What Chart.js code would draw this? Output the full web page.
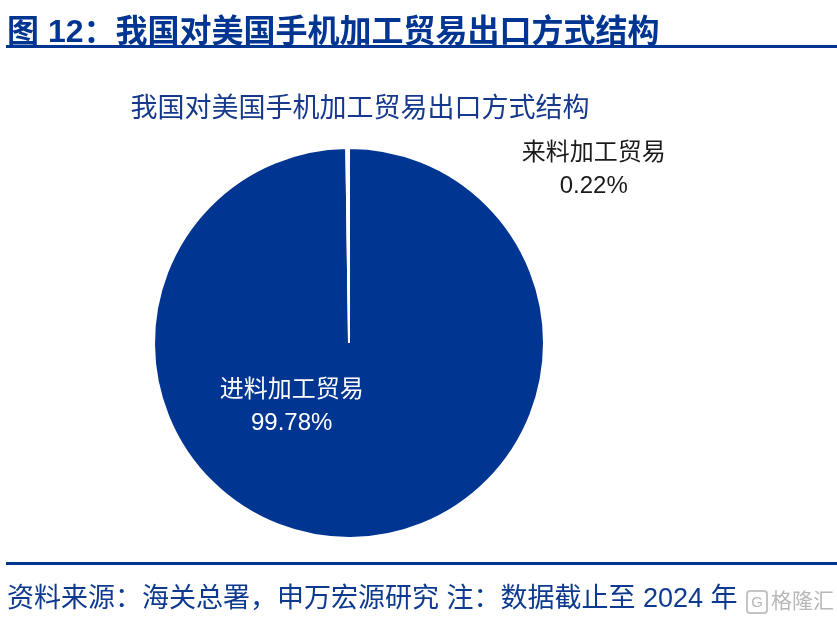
<!DOCTYPE html>
<html lang="zh">
<head>
  <meta charset="UTF-8">
  <title>我国对美国手机加工贸易出口方式结构</title>
  <script src="https://cdn.jsdelivr.net/npm/chart.js"></script>
  <style>
    html, body { margin: 0; padding: 0; background: #fff; }
    body { width: 837px; height: 618px; position: relative; overflow: hidden;
           font-family: "Liberation Sans", "Noto Sans CJK SC", sans-serif; }
    #chartBox { position: absolute; left: 0; top: 0; width: 837px; height: 618px; }
    .header { position: absolute; left: 7px; top: 5px; font-size: 32px; font-weight: 700;
              color: #003591; white-space: nowrap; }
    .rule { position: absolute; left: 6px; right: 0; height: 3px; background: #003591; }
    .title { position: absolute; left: 0; width: 720px; top: 86px; text-align: center;
             font-size: 27px; color: #16398c; }
    .source { position: absolute; left: 7px; top: 576px; font-size: 27px; color: #0d3a8f; white-space: nowrap; }
    .mark { position: absolute; right: 3px; top: 584px; font-size: 21px; color: #b8b8b8; white-space: nowrap; }
    .mark span { display: inline-block; border: 2px solid #c4c4c4; border-radius: 4px; width: 18px; height: 20px;
                 line-height: 20px; text-align: center; font-size: 15px; margin-right: 3px; vertical-align: middle; }
  </style>
</head>
<body>
  <div id="chartBox"><canvas id="pieChart" width="837" height="618"></canvas></div>

  <div class="header">图 12：我国对美国手机加工贸易出口方式结构</div>
  <div class="rule" style="top:45px"></div>
  <div class="title">我国对美国手机加工贸易出口方式结构</div>
  <div class="rule" style="top:562px"></div>
  <div class="source">资料来源：海关总署，申万宏源研究 注：数据截止至 2024 年</div>
  <div class="mark"><span>G</span>格隆汇</div>

  <script>
const categories = ["进料加工贸易", "来料加工贸易"];
const shares = [99.78, 0.22];
const shareLabels = ["99.78%", "0.22%"];
const sliceColors = ["#003591", "#ffffff"];

// label placement relative to the pie's centre, in units of its radius
const labelSpots = [
  { dx: -0.294, dy: 0.245, color: "#ffffff" },
  { dx: 1.255, dy: -0.97, color: "#1a1a1a" }
];

const sliceLabels = {
  id: "sliceLabels",
  afterDatasetsDraw(chart) {
    const ctx = chart.ctx;
    const arcs = chart.getDatasetMeta(0).data;
    ctx.save();
    ctx.textAlign = "center";
    ctx.textBaseline = "middle";
    ctx.font = '24px "Liberation Sans", "Noto Sans CJK SC", sans-serif';
    arcs.forEach((arc, i) => {
      const r = arc.outerRadius;
      const x = arc.x + labelSpots[i].dx * r;
      const y = arc.y + labelSpots[i].dy * r;
      ctx.fillStyle = labelSpots[i].color;
      ctx.fillText(categories[i], x, y);
      ctx.fillText(shareLabels[i], x, y + 33);
    });
    ctx.restore();
  }
};

const ctx = document.getElementById("pieChart").getContext("2d");
new Chart(ctx, {
  type: "pie",
  data: {
    labels: categories,
    datasets: [{
      data: shares,
      backgroundColor: sliceColors,
      borderColor: "#ffffff",
      borderWidth: 2
    }]
  },
  options: {
    responsive: false,
    animation: false,
    layout: { padding: { left: 153, top: 147, right: 292, bottom: 79 } },
    plugins: {
      legend: { display: false },
      tooltip: { enabled: false },
      title: { display: false }
    }
  },
  plugins: [sliceLabels]
});
  </script>
</body>
</html>
